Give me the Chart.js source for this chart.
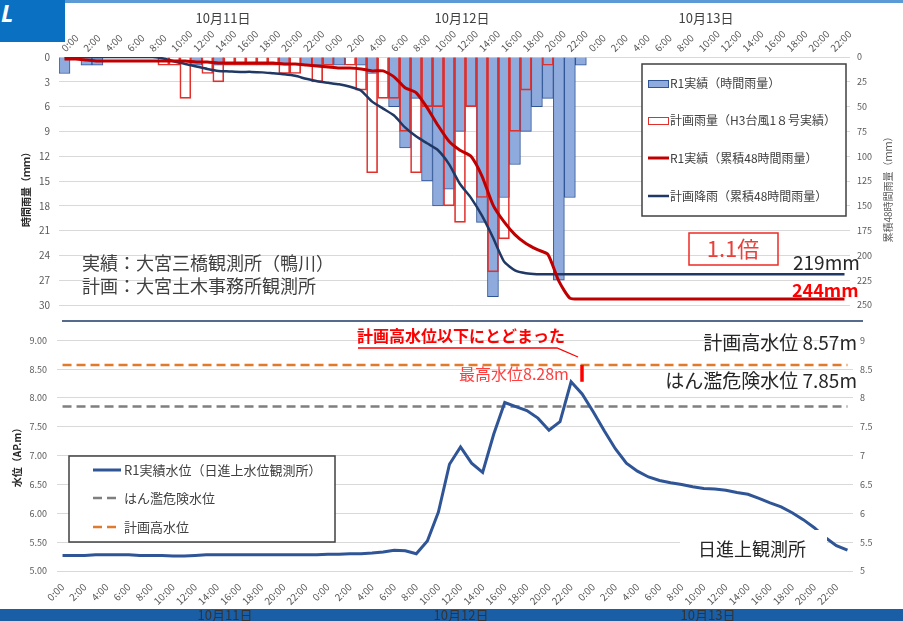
<!DOCTYPE html>
<html>
<head>
<meta charset="utf-8">
<script src="https://cdn.jsdelivr.net/npm/chart.js@4.4.0/dist/chart.umd.min.js"></script>
<style>
  body { margin: 0; width: 903px; height: 621px; overflow: hidden; background: #fff; position: relative; }
  #band { position: absolute; left: 0; top: 609px; width: 903px; height: 12px; background: #1a5ea6; }
  #tab { position: absolute; left: 0; top: 0; width: 65px; height: 42px; background: #0a70c2; color: #fff;
         font: italic bold 24px "Noto Sans"; line-height: 26px; padding-left: 1px; box-sizing: border-box; }
  #topline { position: absolute; left: 65px; top: 0; width: 838px; height: 3px; background: #5b9bd5; }
  #rain { position: absolute; left: 0; top: 0; }
  #level { position: absolute; left: 0; top: 296px; }
</style>
</head>
<body>
<div id="band"></div>
<div id="tab">L</div>
<div id="topline"></div>
<canvas id="level" width="903" height="325"></canvas>
<canvas id="rain" width="903" height="320"></canvas>
<script>
const hourLabels = ['0:00','1:00','2:00','3:00','4:00','5:00','6:00','7:00','8:00','9:00','10:00','11:00',
  '12:00','13:00','14:00','15:00','16:00','17:00','18:00','19:00','20:00','21:00','22:00','23:00'];
const timeLabels = hourLabels.concat(hourLabels, hourLabels);
const dayLabels = ['10月11日', '10月12日', '10月13日'];

// hourly rain (mm), 10/11 0:00 - 10/13 23:00
const rainActual = [2,null,1,1,null,null,null,null,null,null,null,null,
  1,null,1,null,null,null,null,null,1,null,1,1,
  1,1,null,1,2,null,6,11,5,15,18,16,9,6,20,29,17,13,9,6,5,27,17,1,
  null,null,null,null,null,null,null,null,null,null,null,null,
  null,null,null,null,null,null,null,null,null,null,null,null];
const rainPlan = [null,null,null,null,null,null,null,null,null,1,1,5,
  null,2,3,1,1,1,1,1,2,2,null,3,
  1,null,1,4,14,5,5,9,14,6,6,18,20,6,17,26,22,9,4,null,1,null,null,null,
  null,null,null,null,null,null,null,null,null,null,null,null,
  null,null,null,null,null,null,null,null,null,null,null,null];
// cumulative 48h rain (mm)
const cumActual = [2,2,3,4,4,4,4,4,4,4,4,4,5,5,6,6,6,6,6,6,7,7,8,9,
  10,11,11,12,14,14,20,31,36,51,69,85,94,100,120,149,166,179,188,194,199,226,243,244,
  244,244,244,244,244,244,244,244,244,244,244,244,244,244,244,244,244,244,244,244,244,244,244,244];
const cumPlan = [0,0,0,0,0,0,0,0,0,1.5,4.5,7,9.5,12,14,14.5,15,15,15.5,16.5,17.5,19,22,24.5,
  26,27.5,30,34,45,52,59,71,80,87,94,108,128,142,160,182,206,215,218,219,219,219,219,219,
  219,219,219,219,219,219,219,219,219,219,219,219,219,219,219,219,219,219,219,219,219,219,219,219];
// water level (AP.m)
const waterLevel = [5.27,5.27,5.27,5.28,5.28,5.28,5.28,5.27,5.27,5.27,5.26,5.26,
  5.27,5.28,5.28,5.28,5.28,5.28,5.28,5.28,5.28,5.28,5.28,5.28,
  5.29,5.29,5.30,5.30,5.31,5.33,5.36,5.35,5.30,5.52,6.02,6.85,
  7.15,6.87,6.71,7.37,7.92,7.85,7.78,7.65,7.44,7.59,8.28,8.07,
  7.76,7.43,7.12,6.87,6.73,6.63,6.57,6.53,6.50,6.46,6.43,6.42,
  6.40,6.36,6.33,6.26,6.18,6.11,6.01,5.89,5.75,5.58,5.44,5.36];
const dangerLevel = 7.85;
const planHighLevel = 8.57;

const JP = '"Noto Sans CJK JP"';
const tickColor = '#595959';
const gridColor = '#d9d9d9';

function txt(ctx, s, x, y, font, color, align) {
  ctx.font = font;
  ctx.fillStyle = color;
  ctx.textAlign = align || 'left';
  ctx.textBaseline = 'middle';
  ctx.fillText(s, x, y);
}

function vtxt(ctx, s, x, y, font, color) {
  ctx.save();
  ctx.translate(x, y);
  ctx.rotate(-Math.PI / 2);
  txt(ctx, s, 0, 0, font, color, 'center');
  ctx.restore();
}

function everyOther(v, i) {
  return i % 2 === 0 ? timeLabels[i] : '';
}

const rainDecor = {
  id: 'rainDecor',
  afterDraw(chart) {
    const ctx = chart.ctx;
    const ds = chart.data.datasets;
    ctx.save();
    [223, 462, 706].forEach((x, i) => txt(ctx, dayLabels[i], x, 18, '13px ' + JP, '#404040', 'center'));
    vtxt(ctx, '時間雨量（ｍｍ）', 26, 187, 'bold 10px ' + JP, '#262626');
    vtxt(ctx, '累積48時間雨量（ｍｍ）', 888, 187, '10px ' + JP, tickColor);

    // legend
    ctx.fillStyle = '#fff';
    ctx.fillRect(642, 64, 204, 152);
    ctx.strokeStyle = '#404040';
    ctx.lineWidth = 1.5;
    ctx.strokeRect(642, 64, 204, 152);
    const ys = [83, 120, 158, 196];
    ctx.fillStyle = ds[0].backgroundColor;
    ctx.fillRect(648, 80, 20, 7);
    ctx.lineWidth = 1;
    ctx.strokeStyle = ds[0].borderColor;
    ctx.strokeRect(648.5, 80.5, 20, 7);
    ctx.strokeStyle = ds[1].borderColor;
    ctx.strokeRect(648.5, 117.5, 20, 7);
    [2, 3].forEach((k) => {
      ctx.strokeStyle = ds[k].borderColor;
      ctx.lineWidth = ds[k].borderWidth;
      ctx.beginPath();
      ctx.moveTo(648, ys[k]);
      ctx.lineTo(669, ys[k]);
      ctx.stroke();
    });
    ds.forEach((d, k) => txt(ctx, d.label, 670, ys[k], '12px ' + JP, '#404040'));

    txt(ctx, '実績：大宮三橋観測所（鴨川）', 82, 263, '18px ' + JP, '#404040');
    txt(ctx, '計画：大宮土木事務所観測所', 82, 286, '18px ' + JP, '#404040');

    ctx.strokeStyle = '#ee2a24';
    ctx.lineWidth = 1.5;
    ctx.strokeRect(689, 233, 89, 32);
    txt(ctx, '1.1倍', 733, 249, '22px ' + JP, '#e8403a', 'center');
    txt(ctx, '219mm', 793, 263, '19px ' + JP, '#262626');
    txt(ctx, '244mm', 792, 290, 'bold 18px ' + JP, '#ff0000');
    ctx.restore();
  }
};

const levelDecor = {
  id: 'levelDecor',
  afterDraw(chart) {
    const ctx = chart.ctx;
    const ds = chart.data.datasets;
    const y = chart.scales.y;
    ctx.save();
    ctx.translate(0, -296);
    const top = 296;

    // separator
    ctx.strokeStyle = '#1f3864';
    ctx.lineWidth = 1.5;
    ctx.beginPath();
    ctx.moveTo(62, 321);
    ctx.lineTo(863, 321);
    ctx.stroke();

    vtxt(ctx, '水位（AP.m）', 17, 455, 'bold 10px ' + JP, '#262626');
    [225, 461, 708].forEach((x, i) => txt(ctx, dayLabels[i], x, 615, '13px ' + JP, '#333', 'center'));

    // annotation
    txt(ctx, '計画高水位以下にとどまった', 357, 336, 'bold 16px ' + JP, '#ff0000');
    ctx.strokeStyle = '#ff0000';
    ctx.lineWidth = 1.3;
    ctx.beginPath();
    ctx.moveTo(358, 348);
    ctx.lineTo(557, 348);
    ctx.lineTo(578, 357);
    ctx.stroke();
    const yHigh = y.getPixelForValue(planHighLevel) + top;
    const yMax = y.getPixelForValue(8.28) + top;
    ctx.lineWidth = 3.5;
    ctx.beginPath();
    ctx.moveTo(582, yHigh);
    ctx.lineTo(582, yMax);
    ctx.stroke();
    txt(ctx, '最高水位8.28m', 459, 374, '16px ' + JP, '#ff3f3f');
    txt(ctx, '計画高水位 8.57m', 857, 343, '19px ' + JP, '#262626', 'right');
    txt(ctx, 'はん濫危険水位 7.85m', 857, 381, '19px ' + JP, '#262626', 'right');

    ctx.fillStyle = '#fff';
    ctx.fillRect(680, 530, 147, 34);
    txt(ctx, '日進上観測所', 698, 549, '18px ' + JP, '#262626');

    // legend
    ctx.fillStyle = '#fff';
    ctx.fillRect(69, 456, 266, 86);
    ctx.strokeStyle = '#404040';
    ctx.lineWidth = 1.5;
    ctx.strokeRect(69, 456, 266, 86);
    const ys = [470, 498, 527];
    ds.forEach((d, k) => {
      ctx.strokeStyle = d.borderColor;
      ctx.lineWidth = d.borderWidth;
      ctx.setLineDash(d.borderDash || []);
      ctx.beginPath();
      ctx.moveTo(93, ys[k]);
      ctx.lineTo(121, ys[k]);
      ctx.stroke();
      ctx.setLineDash([]);
      txt(ctx, d.label, 124, ys[k], '13px ' + JP, '#404040');
    });
    ctx.restore();
  }
};

const tickFont = { family: JP, size: 9 };

new Chart(document.getElementById('rain'), {
  data: {
    labels: timeLabels,
    datasets: [
      { type: 'bar', label: 'R1実績（時間雨量）', data: rainActual, yAxisID: 'y',
        backgroundColor: '#8faadc', borderColor: '#2f5597', borderWidth: 1,
        grouped: false, barPercentage: 1, categoryPercentage: 1, order: 3 },
      { type: 'bar', label: '計画雨量（H3台風1８号実績）', data: rainPlan, yAxisID: 'y',
        backgroundColor: 'rgba(0,0,0,0)', borderColor: '#e0302c', borderWidth: 1,
        grouped: false, barPercentage: 1, categoryPercentage: 1, order: 2 },
      { type: 'line', label: 'R1実績（累積48時間雨量）', data: cumActual, yAxisID: 'y2',
        borderColor: '#c00000', borderWidth: 3, pointRadius: 0, tension: 0.2, order: 0 },
      { type: 'line', label: '計画降雨（累積48時間雨量）', data: cumPlan, yAxisID: 'y2',
        borderColor: '#203864', borderWidth: 2.5, pointRadius: 0, tension: 0.2, order: 1 }
    ]
  },
  options: {
    responsive: false,
    animation: false,
    layout: { padding: { left: 0, right: 0, top: 0, bottom: 12 } },
    plugins: { legend: { display: false }, tooltip: { enabled: false } },
    scales: {
      x: {
        position: 'top',
        offset: true,
        grid: { display: false, drawTicks: false },
        border: { display: false },
        ticks: { autoSkip: false, minRotation: 45, maxRotation: 45, padding: 3, labelOffset: 7,
                 color: tickColor, font: { family: JP, size: 10 }, callback: everyOther },
        afterFit: (s) => { s.height = 57; }
      },
      y: {
        position: 'left',
        reverse: true, min: 0, max: 30,
        grid: { color: gridColor, drawTicks: false },
        border: { display: false },
        ticks: { stepSize: 3, padding: 9, color: tickColor, font: { family: JP, size: 10 } },
        afterFit: (s) => { s.width = 59; }
      },
      y2: {
        position: 'right',
        reverse: true, min: 0, max: 250,
        grid: { display: false, drawTicks: false },
        border: { display: false },
        ticks: { stepSize: 25, padding: 7, color: tickColor, font: tickFont },
        afterFit: (s) => { s.width = 53; }
      }
    }
  },
  plugins: [rainDecor]
});

new Chart(document.getElementById('level'), {
  type: 'line',
  data: {
    labels: timeLabels,
    datasets: [
      { label: 'R1実績水位（日進上水位観測所）', data: waterLevel,
        borderColor: '#2f5597', borderWidth: 3, pointRadius: 0, tension: 0, order: 0 },
      { label: 'はん濫危険水位', data: timeLabels.map(() => dangerLevel),
        borderColor: '#7f7f7f', borderWidth: 2.5, borderDash: [9, 5], pointRadius: 0, order: 2 },
      { label: '計画高水位', data: timeLabels.map(() => planHighLevel),
        borderColor: '#e07a2c', borderWidth: 2.5, borderDash: [9, 5], pointRadius: 0, order: 1 }
    ]
  },
  options: {
    responsive: false,
    animation: false,
    layout: { padding: { left: 0, right: 0, top: 7, bottom: 0 } },
    plugins: { legend: { display: false }, tooltip: { enabled: false } },
    scales: {
      x: {
        offset: true,
        grid: { display: false, drawTicks: false },
        border: { display: false },
        ticks: { autoSkip: false, minRotation: 45, maxRotation: 45, padding: 10,
                 color: tickColor, font: { family: JP, size: 10 }, callback: everyOther },
        afterFit: (s) => { s.height = 50; }
      },
      y: {
        min: 5, max: 9.5,
        grid: { color: (c) => (c.tick && c.tick.value === 9.5 ? 'rgba(0,0,0,0)' : gridColor), drawTicks: false },
        border: { display: false },
        ticks: { stepSize: 0.5, padding: 10, color: tickColor, font: tickFont,
                 callback: (v) => (v === 9.5 ? '' : v.toFixed(2)) },
        afterFit: (s) => { s.width = 57; }
      },
      y2: {
        position: 'right',
        min: 5, max: 9.5,
        grid: { display: false, drawTicks: false },
        border: { display: false },
        ticks: { stepSize: 0.5, padding: 7, color: tickColor, font: tickFont,
                 callback: (v) => (v === 9.5 ? '' : String(v)) },
        afterFit: (s) => { s.width = 50; }
      }
    }
  },
  plugins: [levelDecor]
});
</script>
</body>
</html>
